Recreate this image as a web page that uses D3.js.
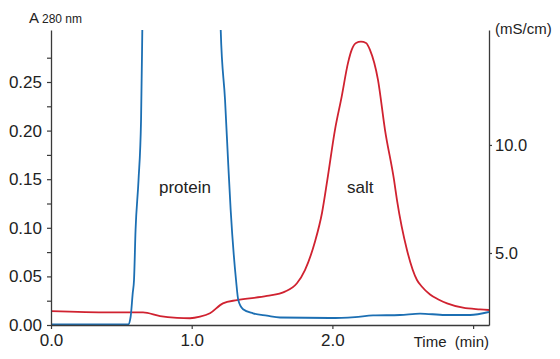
<!DOCTYPE html>
<html>
<head>
<meta charset="utf-8">
<script src="https://cdn.jsdelivr.net/npm/d3@7"></script>
<style>
html,body{margin:0;padding:0;background:#fff;}
svg{display:block;font-family:"Liberation Sans",Arial,sans-serif;}
</style>
</head>
<body>
<svg id="chart" width="560" height="359"></svg>
<script>
// ---- data ----
const proteinTime = [0, 0.549, 0.566, 0.581, 0.590, 0.601, 0.622, 0.640, 0.649, 0.668, 0.93, 1.187, 1.206, 1.237, 1.260, 1.277, 1.315, 1.331, 1.365, 1.436, 1.535, 1.628, 1.983, 2.161, 2.289, 2.480, 2.623, 2.800, 2.978, 3.113];
const proteinA280 = [0.0005, 0.0007, 0.0085, 0.033, 0.0463, 0.0977, 0.149, 0.211, 0.3035, 0.54, 1.0, 0.54, 0.3045, 0.2315, 0.1646, 0.1183, 0.0463, 0.0257, 0.0162, 0.0120, 0.0096, 0.0077, 0.0072, 0.0082, 0.0098, 0.0103, 0.0118, 0.0103, 0.0103, 0.0134];
const saltTime = [0, 0.419, 0.654, 0.775, 0.896, 0.988, 1.059, 1.130, 1.222, 1.322, 1.535, 1.663, 1.748, 1.805, 1.876, 1.926, 1.964, 2.018, 2.066, 2.111, 2.137, 2.168, 2.203, 2.239, 2.267, 2.324, 2.374, 2.438, 2.459, 2.530, 2.601, 2.635, 2.694, 2.750, 2.815, 2.928, 3.049, 3.113];
const saltCond = [2.31, 2.25, 2.25, 2.08, 2.00, 1.98, 2.05, 2.21, 2.67, 2.82, 3.01, 3.21, 3.60, 4.21, 5.52, 6.85, 8.38, 10.69, 12.24, 13.80, 14.40, 14.72, 14.78, 14.72, 14.40, 13.01, 10.69, 8.38, 7.45, 5.14, 3.75, 3.45, 3.08, 2.86, 2.67, 2.47, 2.39, 2.36];
const xTicks = [0, 1, 2, 3];
const xTickLabels = ["0.0", "1.0", "2.0", ""];
const leftTicks = [0, 0.05, 0.10, 0.15, 0.20, 0.25];
const leftMinorTicks = [0.025, 0.075, 0.125, 0.175, 0.225, 0.275];
const rightTicks = [5, 10];

// ---- layout ----
const L = 51, R = 489, T = 30, B = 325;
const svg = d3.select("#chart");
const axisColor = "#3a3a3a", textColor = "#222";
const blue = "#1c6fb3", red = "#d02230";

const x = d3.scaleLinear().domain([0, 3.113]).range([L, R]);
const yL = d3.scaleLinear().domain([0, 0.3035]).range([B, T]);
const yR = d3.scaleLinear().domain([1.667, 15.32]).range([B, T]);

svg.append("defs").append("clipPath").attr("id", "clip")
  .append("rect").attr("x", L).attr("y", T).attr("width", R - L).attr("height", B - T);

// lines
const g = svg.append("g").attr("clip-path", "url(#clip)");
const saltData = saltTime.map((t, i) => [t, saltCond[i]]);
const protData = proteinTime.map((t, i) => [t, proteinA280[i]]);
g.append("path").datum(saltData)
  .attr("fill", "none").attr("stroke", red).attr("stroke-width", 1.8)
  .attr("d", d3.line().x(d => x(d[0])).y(d => yR(d[1])).curve(d3.curveMonotoneX));
g.append("path").datum(protData)
  .attr("fill", "none").attr("stroke", blue).attr("stroke-width", 1.8)
  .attr("d", d3.line().x(d => x(d[0])).y(d => yL(d[1])).curve(d3.curveMonotoneX));

function style(sel, fs) {
  sel.select(".domain").attr("stroke", axisColor).attr("stroke-width", 1.3);
  sel.selectAll(".tick line").attr("stroke", axisColor).attr("stroke-width", 1.2);
  sel.selectAll(".tick text").attr("fill", textColor).attr("font-size", fs)
     .attr("font-family", '"Liberation Sans",Arial,sans-serif');
}

// left axis
const gl = svg.append("g").attr("transform", `translate(${L},0)`)
  .call(d3.axisLeft(yL).tickValues(leftTicks).tickSize(4).tickSizeOuter(0).tickPadding(5).tickFormat(d3.format(".2f")));
style(gl, 17);
const glm = svg.append("g").attr("transform", `translate(${L},0)`)
  .call(d3.axisLeft(yL).tickValues(leftMinorTicks).tickSize(4).tickSizeOuter(0).tickFormat(""));
style(glm, 17);
glm.select(".domain").remove();

// right axis
const gr = svg.append("g").attr("transform", `translate(${R},0)`)
  .call(d3.axisRight(yR).tickValues(rightTicks).tickSize(3).tickSizeOuter(0).tickPadding(3).tickFormat(d3.format(".1f")));
style(gr, 16.5);

// bottom axis
const gb = svg.append("g").attr("transform", `translate(0,${B})`)
  .call(d3.axisBottom(x).tickValues(xTicks).tickSize(4).tickSizeOuter(0).tickPadding(5)
    .tickFormat((d, i) => xTickLabels[i]));
style(gb, 17);

// labels
const lab = svg.append("g").attr("fill", textColor).attr("font-family", '"Liberation Sans",Arial,sans-serif');
const aLab = lab.append("text").attr("x", 29).attr("y", 23).attr("font-size", 15);
aLab.append("tspan").text("A");
aLab.append("tspan").attr("dx", 3).attr("font-size", 12).text("280 nm");
lab.append("text").attr("x", 495).attr("y", 34).attr("font-size", 15).text("(mS/cm)");
lab.append("text").attr("x", 489).attr("y", 347).attr("text-anchor", "end").attr("font-size", 15)
  .attr("xml:space", "preserve").style("white-space", "pre").text("Time  (min)");
lab.append("text").attr("x", 159).attr("y", 193).attr("font-size", 17).text("protein");
lab.append("text").attr("x", 347).attr("y", 193).attr("font-size", 17).text("salt");
</script>
</body>
</html>
